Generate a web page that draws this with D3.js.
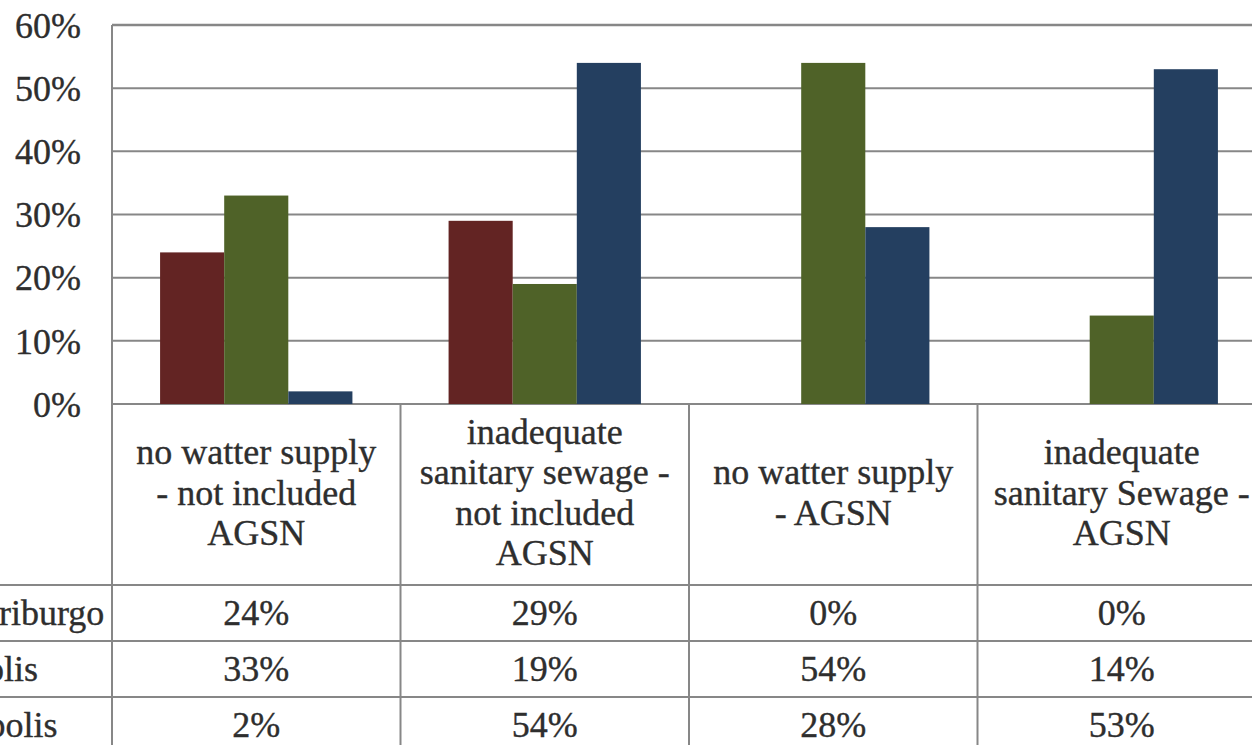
<!DOCTYPE html>
<html>
<head>
<meta charset="utf-8">
<script src="https://cdn.jsdelivr.net/npm/d3@7"></script>
<style>
  html, body { margin: 0; padding: 0; background: #fff; }
  svg { display: block; }
  text { font-family: "Liberation Serif", "Times New Roman", serif; fill: #2e2e2e; stroke: #2e2e2e; stroke-width: 0.35px; }
</style>
</head>
<body>
<svg id="chart" width="1252" height="745"></svg>
<script>
// Category labels (one entry per line of the wrapped header text)
const categories = [
  ["no watter supply", "- not included", "AGSN"],
  ["inadequate", "sanitary sewage -", "not included", "AGSN"],
  ["no watter supply", "- AGSN"],
  ["inadequate", "sanitary Sewage -", "AGSN"]
];
const seriesNames = ["Nova Friburgo", "Petrópolis", "Teresópolis"];
const friburgo = [24, 29, 0, 0];
const petropolis = [33, 19, 54, 14];
const teresopolis = [2, 54, 28, 53];
const yTicks = [0, 10, 20, 30, 40, 50, 60];
const seriesColors = ["#632423", "#4f6228", "#243f60"];

const seriesValues = [friburgo, petropolis, teresopolis];

const svg = d3.select("#chart");
const W = 1252, H = 745;
const FS = 36;

const plotLeft = 112, plotRight = 1266, plotTop = 25, plotBottom = 404;
const headerBottom = 585, rowH = 56;

const x = d3.scaleBand()
  .domain(d3.range(categories.length))
  .range([plotLeft, plotRight])
  .paddingInner(0).paddingOuter(0);

const xs = d3.scaleBand()
  .domain(d3.range(seriesNames.length))
  .range([0, x.bandwidth()])
  .paddingOuter(0.75)
  .paddingInner(0);

const y = d3.scaleLinear().domain([0, 60]).range([plotBottom, plotTop]);

const gridColor = "#878787";

// horizontal gridlines
svg.append("g")
  .selectAll("line")
  .data(yTicks)
  .join("line")
  .attr("x1", plotLeft).attr("x2", W)
  .attr("y1", d => y(d)).attr("y2", d => y(d))
  .attr("stroke", gridColor)
  .attr("stroke-width", d => d === 60 ? 2.5 : 2);

// y axis labels
const yAxis = d3.axisLeft(y).tickValues(yTicks).tickFormat(d => d + "%").tickSize(0).tickPadding(0);
const yG = svg.append("g").attr("transform", `translate(81,0)`).call(yAxis);
yG.select(".domain").remove();
yG.selectAll("text")
  .attr("font-size", FS)
  .attr("font-family", "Liberation Serif, serif")
  .attr("fill", "#2e2e2e")
  .attr("dy", "0.34em");

// bars
const groups = svg.append("g")
  .selectAll("g")
  .data(categories.map((c, i) => i))
  .join("g")
  .attr("transform", i => `translate(${x(i)},0)`);

groups.selectAll("rect")
  .data(i => seriesValues.map((vals, s) => ({ s, v: vals[i] })))
  .join("rect")
  .attr("x", d => xs(d.s))
  .attr("width", xs.bandwidth())
  .attr("y", d => y(d.v))
  .attr("height", d => plotBottom - y(d.v))
  .attr("fill", d => seriesColors[d.s]);

// plot left edge
svg.append("line")
  .attr("x1", plotLeft).attr("x2", plotLeft)
  .attr("y1", plotTop).attr("y2", H)
  .attr("stroke", gridColor).attr("stroke-width", 2);

// data table: column dividers
svg.append("g")
  .selectAll("line")
  .data(d3.range(1, categories.length + 1))
  .join("line")
  .attr("x1", i => x(i) !== undefined ? x(i) : plotRight)
  .attr("x2", i => x(i) !== undefined ? x(i) : plotRight)
  .attr("y1", plotBottom).attr("y2", H)
  .attr("stroke", gridColor).attr("stroke-width", 2);

// data table: row separators
svg.append("g")
  .selectAll("line")
  .data(d3.range(seriesNames.length))
  .join("line")
  .attr("x1", 0).attr("x2", W)
  .attr("y1", i => headerBottom + i * rowH)
  .attr("y2", i => headerBottom + i * rowH)
  .attr("stroke", gridColor).attr("stroke-width", 2);

// header labels
const lineH = 40.5;
const headerMid = (plotBottom + headerBottom) / 2 - 2;
svg.append("g")
  .selectAll("text")
  .data(categories.map((lines, i) => ({ lines, i })))
  .join("text")
  .attr("text-anchor", "middle")
  .attr("font-size", FS)
  .each(function (d) {
    const t = d3.select(this);
    const n = d.lines.length;
    d.lines.forEach((ln, k) => {
      t.append("tspan")
        .attr("x", x(d.i) + x.bandwidth() / 2)
        .attr("y", headerMid + (k - (n - 1) / 2) * lineH)
        .attr("dy", "0.34em")
        .text(ln);
    });
  });

// row labels (left-aligned in the table's label column)
svg.append("g")
  .selectAll("text")
  .data(seriesNames)
  .join("text")
  .attr("x", -108)
  .attr("y", (d, i) => headerBottom + i * rowH + rowH / 2)
  .attr("dy", "0.34em")
  .attr("font-size", FS)
  .text(d => d);

// row values
seriesValues.forEach((vals, s) => {
  svg.append("g")
    .selectAll("text")
    .data(vals)
    .join("text")
    .attr("x", (d, i) => x(i) + x.bandwidth() / 2)
    .attr("y", headerBottom + s * rowH + rowH / 2)
    .attr("dy", "0.34em")
    .attr("text-anchor", "middle")
    .attr("font-size", FS)
    .text(d => d + "%");
});
</script>
</body>
</html>
